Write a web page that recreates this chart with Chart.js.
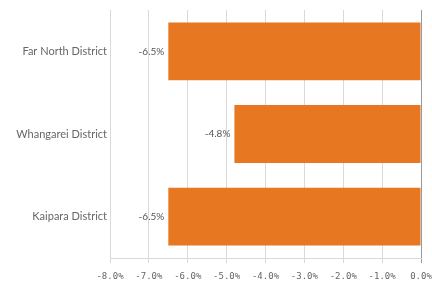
<!DOCTYPE html>
<html>
<head>
<meta charset="utf-8">
<script src="https://cdn.jsdelivr.net/npm/chart.js@4"></script>
<style>
  html, body { margin: 0; padding: 0; background: #fff; }
  #wrap { width: 432px; height: 287px; }
</style>
</head>
<body>
<div id="wrap"><canvas id="chart" width="432" height="287"></canvas></div>
<script>
const districts = ['Far North District', 'Whangarei District', 'Kaipara District'];
const changePct = [-6.5, -4.8, -6.5];
const xTicks = [-8, -7, -6, -5, -4, -3, -2, -1, 0];

// draws "-6.5%" just left of each bar end
const barLabels = {
  id: 'barLabels',
  afterDatasetsDraw(chart) {
    const ctx = chart.ctx;
    const meta = chart.getDatasetMeta(0);
    ctx.save();
    ctx.font = '10px Lato';
    ctx.fillStyle = '#555';
    ctx.textAlign = 'right';
    ctx.textBaseline = 'middle';
    meta.data.forEach((bar, i) => {
      ctx.fillText(changePct[i].toFixed(1) + '%', bar.x - 4, bar.y);
    });
    ctx.restore();
  }
};

new Chart(document.getElementById('chart'), {
  type: 'bar',
  data: {
    labels: districts,
    datasets: [{
      data: changePct,
      backgroundColor: '#E87722',
      borderWidth: 0,
      barPercentage: 0.7,
      categoryPercentage: 1
    }]
  },
  options: {
    indexAxis: 'y',
    responsive: false,
    animation: false,
    layout: { padding: { top: 10, right: 11, left: 0, bottom: 0 } },
    plugins: { legend: { display: false }, tooltip: { enabled: false } },
    scales: {
      x: {
        min: -8,
        max: 0,
        afterBuildTicks: s => { s.ticks = xTicks.map(v => ({ value: v })); },
        afterFit: s => { s.height = 29; s.paddingLeft = 0; s.paddingRight = 0; },
        grid: {
          color: c => c.tick && c.tick.value === 0 ? '#999' : '#d9d9d9',
          tickLength: 5,
          drawTicks: true
        },
        border: { color: '#d9d9d9' },
        ticks: {
          padding: 8,
          maxRotation: 0,
          font: { family: 'DejaVu Sans Mono', size: 9 },
          color: '#666',
          callback: v => v.toFixed(1) + '%'
        }
      },
      y: {
        afterFit: s => { s.width = 110; },
        grid: { display: false, drawTicks: false },
        border: { display: false },
        ticks: {
          padding: 3,
          font: { family: 'Lato', size: 11 },
          color: '#666'
        }
      }
    }
  },
  plugins: [barLabels]
});
</script>
</body>
</html>
